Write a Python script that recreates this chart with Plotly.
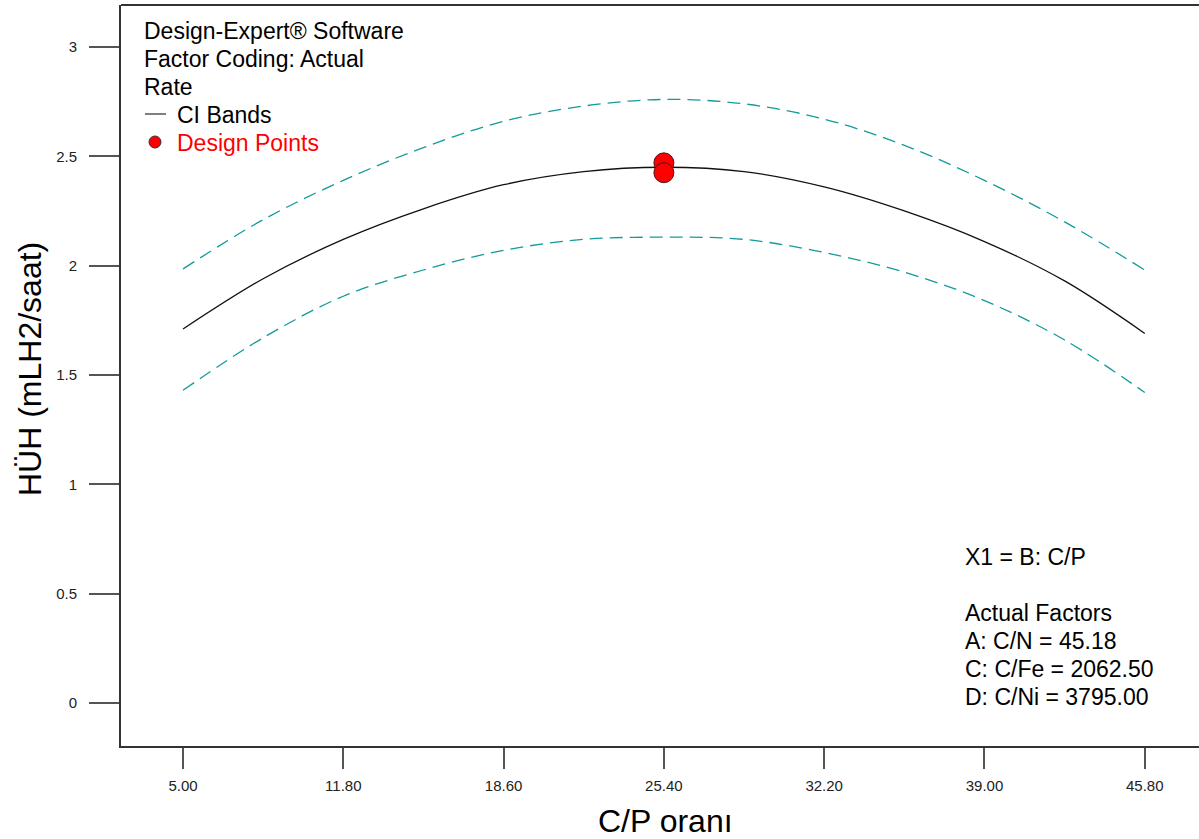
import plotly.graph_objects as go

# ---- data ----
cp_ratio = [5.0, 8.4, 11.8, 15.2, 18.6, 22.0, 25.4, 28.8, 32.2, 35.6, 39.0, 42.4, 45.8]
rate_fit = [1.71, 1.94, 2.12, 2.26, 2.37, 2.43, 2.45, 2.43, 2.36, 2.25, 2.11, 1.93, 1.69]
ci_upper = [1.985, 2.21, 2.39, 2.54, 2.66, 2.73, 2.76, 2.74, 2.67, 2.55, 2.39, 2.20, 1.98]
ci_lower = [1.43, 1.67, 1.86, 1.98, 2.07, 2.12, 2.13, 2.12, 2.06, 1.97, 1.84, 1.66, 1.42]

design_x = [25.4, 25.4]
design_y = [2.47, 2.425]

x_ticks = [5.00, 11.80, 18.60, 25.40, 32.20, 39.00, 45.80]
x_tick_labels = ["5.00", "11.80", "18.60", "25.40", "32.20", "39.00", "45.80"]
y_ticks = [0, 0.5, 1, 1.5, 2, 2.5, 3]
y_tick_labels = ["0", "0.5", "1", "1.5", "2", "2.5", "3"]

legend_lines = ["Design-Expert® Software", "Factor Coding: Actual", "Rate"]
factor_lines = ["X1 = B: C/P", "", "Actual Factors", "A: C/N = 45.18",
                "C: C/Fe = 2062.50", "D: C/Ni = 3795.00"]

# ---- layout geometry (pixels) ----
W, H = 1199, 839
L, R, T, B = 121, 0, 5, 93
PW, PH = W - L - R, H - T - B
FONT = "Arial, Liberation Sans, sans-serif"
TEAL = "#139a9a"
TXT = 23


def px(xp):
    return (xp - L) / PW


def py(yp):
    return (H - B - yp) / PH


fig = go.Figure()
fig.add_trace(go.Scatter(x=cp_ratio, y=ci_upper, mode="lines", line_shape="spline",
                         line=dict(color=TEAL, width=1.3, dash="13px,7px"), hoverinfo="skip"))
fig.add_trace(go.Scatter(x=cp_ratio, y=ci_lower, mode="lines", line_shape="spline",
                         line=dict(color=TEAL, width=1.3, dash="13px,7px"), hoverinfo="skip"))
fig.add_trace(go.Scatter(x=cp_ratio, y=rate_fit, mode="lines", line_shape="spline",
                         line=dict(color="#111111", width=1.3)))
fig.add_trace(go.Scatter(x=design_x, y=design_y, mode="markers",
                         marker=dict(size=20, color="#ff0000",
                                     line=dict(color="#551111", width=1))))

annotations = []
for i, t in enumerate(legend_lines):
    annotations.append(dict(x=px(142), y=py(31 + 28 * i), xref="paper", yref="paper",
                            text=t, showarrow=False, xanchor="left", yanchor="middle",
                            font=dict(family=FONT, size=TXT, color="#000000")))
annotations.append(dict(x=px(175), y=py(115), xref="paper", yref="paper", text="CI Bands",
                        showarrow=False, xanchor="left", yanchor="middle",
                        font=dict(family=FONT, size=TXT, color="#000000")))
annotations.append(dict(x=px(175), y=py(143), xref="paper", yref="paper", text="Design Points",
                        showarrow=False, xanchor="left", yanchor="middle",
                        font=dict(family=FONT, size=TXT, color="#ff0000")))
for i, t in enumerate(factor_lines):
    if t:
        annotations.append(dict(x=px(963), y=py(557 + 28 * i), xref="paper", yref="paper",
                                text=t, showarrow=False, xanchor="left", yanchor="middle",
                                font=dict(family=FONT, size=TXT, color="#000000")))
annotations.append(dict(x=px(665), y=py(821), xref="paper", yref="paper", text="C/P oranı",
                        showarrow=False, xanchor="center", yanchor="middle",
                        font=dict(family=FONT, size=32, color="#000000")))
annotations.append(dict(x=px(30), y=py(369), xref="paper", yref="paper",
                        text="HÜH (mLH2/saat)", textangle=-90,
                        showarrow=False, xanchor="center", yanchor="middle",
                        font=dict(family=FONT, size=32, color="#000000")))

shapes = [
    dict(type="line", xref="paper", yref="paper", x0=0, x1=1, y0=1, y1=1,
         line=dict(color="#333333", width=2)),
    dict(type="line", xref="paper", yref="paper", x0=px(145), x1=px(166), y0=py(114), y1=py(114),
         line=dict(color="#555555", width=1.5)),
    dict(type="circle", xref="paper", yref="paper", x0=px(149), x1=px(161),
         y0=py(148), y1=py(136), fillcolor="#ff0000", line=dict(color="#333333", width=1)),
]

fig.update_layout(
    width=W, height=H,
    margin=dict(l=L, r=R, t=T, b=B),
    paper_bgcolor="white", plot_bgcolor="white",
    showlegend=False,
    annotations=annotations,
    shapes=shapes,
    font=dict(family=FONT),
)
fig.update_xaxes(range=[2.37, 48.10], tickvals=x_ticks, ticktext=x_tick_labels,
                 showgrid=False, zeroline=False, showline=True, linecolor="#333333", linewidth=2,
                 ticks="outside", ticklen=21, tickwidth=2, tickcolor="#555555",
                 tickfont=dict(family=FONT, size=15, color="#222222"), ticklabelstandoff=4)
fig.update_yaxes(range=[-0.197, 3.192], tickvals=y_ticks, ticktext=y_tick_labels,
                 showgrid=False, zeroline=False, showline=True, linecolor="#333333", linewidth=2,
                 ticks="outside", ticklen=30, tickwidth=2, tickcolor="#555555",
                 tickfont=dict(family=FONT, size=15, color="#222222"), ticklabelstandoff=9)

fig.write_html("out.html")
